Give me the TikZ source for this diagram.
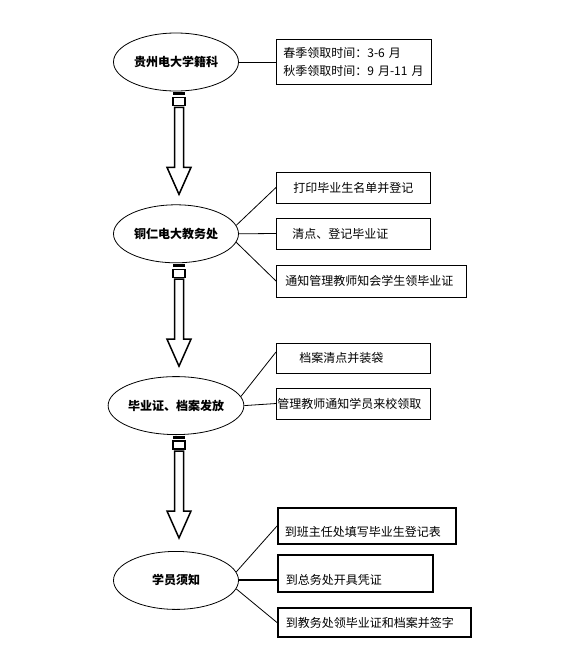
\documentclass[tikz,border=0pt]{standalone}
\usepackage{fontspec}
\setmainfont{Noto Sans CJK SC}
\usetikzlibrary{positioning,shapes.geometric}

\begin{document}
\begin{tikzpicture}[
  x=1pt, y=-1pt,
  node distance=113pt,
  office/.style={ellipse, draw=black, line width=0.8pt, minimum width=125pt, minimum height=58pt, inner sep=0pt, font=\fontsize{12pt}{14pt}\selectfont\bfseries},
  task/.style={rectangle, draw=black, line width=0.8pt, anchor=west, minimum height=31pt, inner ysep=0pt, align=left, font=\fontsize{12pt}{18pt}\selectfont},
  must/.style={task, line width=1.6pt},
  link/.style={line width=0.8pt},
  downarrow/.pic={
    \fill (-6,0) rectangle (6,2.5);
    \draw[line width=1.2pt] (-6,5) rectangle (6,13);
    \draw[line width=1.5pt, fill=white] (-4.5,15) -- (4.5,15) -- (4.5,75) -- (12,75) -- (0,102) -- (-12,75) -- (-4.5,75) -- cycle;
  }
]
\useasboundingbox (0,0) rectangle (569,654);

% offices
\node[office] (xueji) at (176,62) {贵州电大学籍科};
\node[office, below=of xueji] (jiaowu) {铜仁电大教务处};
\node[office, below=of jiaowu] (fafang) {毕业证、档案发放};
\node[office, below=116pt of fafang] (xuzhi) {学员须知};

% tasks
\node[task, inner xsep=7pt, text width=141pt, minimum height=45pt] (shijian) at (276,62) {春季领取时间：3-6 月\\秋季领取时间：9 月-11 月};
\node[task, inner xsep=17pt, text width=120pt] (dengji) at (276,187.5) {打印毕业生名单并登记};
\node[task, inner xsep=16pt, text width=122pt] (qingdian) at (276,233.5) {清点、登记毕业证};
\node[task, inner xsep=9pt, text width=172pt, minimum height=32pt] (tongzhi) at (276,281) {通知管理教师知会学生领毕业证};
\node[task, inner xsep=23pt, text width=108pt, minimum height=30pt] (zhuangdai) at (276,358) {档案清点并装袋};
\node[task, inner xsep=1pt, text width=152pt] (lingqu) at (276,403.5) {管理教师通知学员来校领取};
\node[must, inner xsep=7pt, text width=164pt, minimum height=36pt] (tianbiao) at (277,526) {\raisebox{-6pt}[\height][\depth]{到班主任处填写毕业生登记表}};
\node[must, inner xsep=8pt, text width=139pt, minimum height=37pt] (pingzheng) at (277,573.5) {\raisebox{-6pt}[\height][\depth]{到总务处开具凭证}};
\node[must, inner xsep=8pt, text width=177pt, minimum height=29pt] (qianzi) at (277,622.5) {到教务处领毕业证和档案并签字};

% arrows between offices
\pic at ([xshift=3pt, yshift=-1pt]xueji.south) {downarrow};
\pic at ([xshift=3pt, yshift=-1pt]jiaowu.south) {downarrow};
\pic at ([xshift=3pt, yshift=-1pt]fafang.south) {downarrow};

% links
\draw[link] (xueji.east) -- (shijian.west);
\draw[link] (jiaowu.8) -- (dengji.west);
\draw[link] (jiaowu.east) -- (qingdian.west);
\draw[link] (jiaowu.-8) -- (tongzhi.west);
\draw[link] (fafang.8) -- ([yshift=6pt]zhuangdai.west);
\draw[link] (fafang.east) -- (lingqu.west);
\draw[link] (xuzhi.8) -- (tianbiao.west);
\draw[link, line width=2pt] (xuzhi.east) -- (xuzhi.east -| pingzheng.west);
\draw[link] (xuzhi.-8) -- (qianzi.west);
\end{tikzpicture}
\end{document}
